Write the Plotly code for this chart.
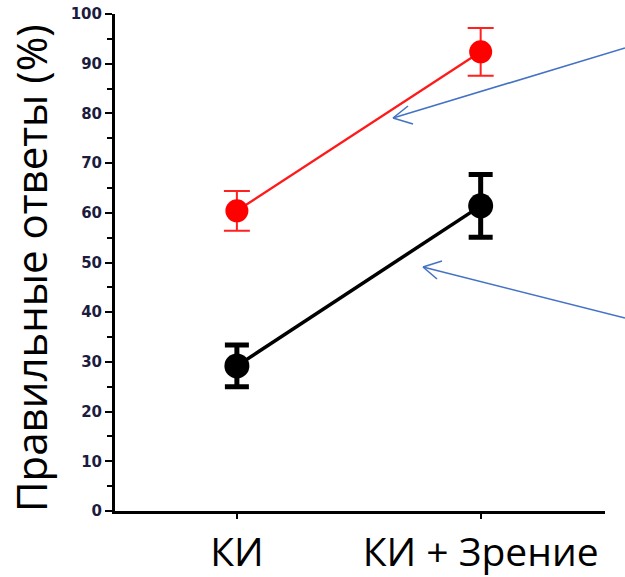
import plotly.graph_objects as go

categories = ["КИ", "КИ + Зрение"]
red_values = [60.4, 92.4]
red_errors = [4.0, 4.8]
black_values = [29.2, 61.4]
black_errors = [4.2, 6.3]
y_ticks = [0, 10, 20, 30, 40, 50, 60, 70, 80, 90, 100]
y_title = "Правильные ответы (%)"

W, H = 625, 577
L, R, T, B = 115, 20, 14, 66
pw, ph = W - L - R, H - T - B

def px(x, y):
    # page pixel -> paper coords
    return (x - L) / pw, (H - B - y) / ph

fig = go.Figure()
fig.add_trace(go.Scatter(
    x=categories, y=black_values, mode="lines+markers",
    line=dict(color="black", width=3.5),
    marker=dict(color="black", size=25),
    error_y=dict(type="data", array=black_errors, color="black", thickness=5, width=12),
    showlegend=False))
fig.add_trace(go.Scatter(
    x=categories, y=red_values, mode="lines+markers",
    line=dict(color="#ff1a1a", width=2.3),
    marker=dict(color="#ff0000", size=23),
    error_y=dict(type="data", array=red_errors, color="#ff2020", thickness=2, width=13),
    showlegend=False))

arrows = [
    [(625, 48), (393, 118), (408, 106), (413, 124)],
    [(625, 318), (423, 267), (442, 261), (437, 279)],
]
shapes = []
for tail, head, a1, a2 in arrows:
    for p, q in [(tail, head), (head, a1), (head, a2)]:
        x0, y0 = px(*p)
        x1, y1 = px(*q)
        shapes.append(dict(type="line", xref="paper", yref="paper",
                           x0=x0, y0=y0, x1=x1, y1=y1,
                           line=dict(color="#4472C4", width=1.6)))

tx, ty = px(30, 268)
fig.add_annotation(text=y_title, xref="paper", yref="paper", x=tx, y=ty,
                   textangle=-90, showarrow=False, xanchor="center", yanchor="middle",
                   font=dict(family="Open Sans", size=42, color="black"))

fig.update_layout(
    width=W, height=H,
    margin=dict(l=L, r=R, t=T, b=B, autoexpand=False),
    plot_bgcolor="white", paper_bgcolor="white",
    shapes=shapes,
    xaxis=dict(type="category", range=[-0.5, 1.51], showgrid=False,
               showline=True, linecolor="black", linewidth=3,
               ticks="outside", ticklen=5, tickwidth=2, tickcolor="black",
               tickfont=dict(family="Open Sans", size=39, color="black"),
               automargin=False, zeroline=False),
    yaxis=dict(range=[0, 100], tickvals=y_ticks, showgrid=False,
               showline=True, linecolor="black", linewidth=3,
               ticks="outside", ticklen=7, tickwidth=2, tickcolor="black",
               tickfont=dict(family="DejaVu Sans", size=15, color="#1c1c40", weight="bold"),
               minor=dict(dtick=5, ticks="outside", ticklen=5, tickwidth=2, tickcolor="black"),
               automargin=False, zeroline=False),
)
fig.write_html("out.html", config={"displayModeBar": False},
               post_script="document.body.style.margin='0';")
